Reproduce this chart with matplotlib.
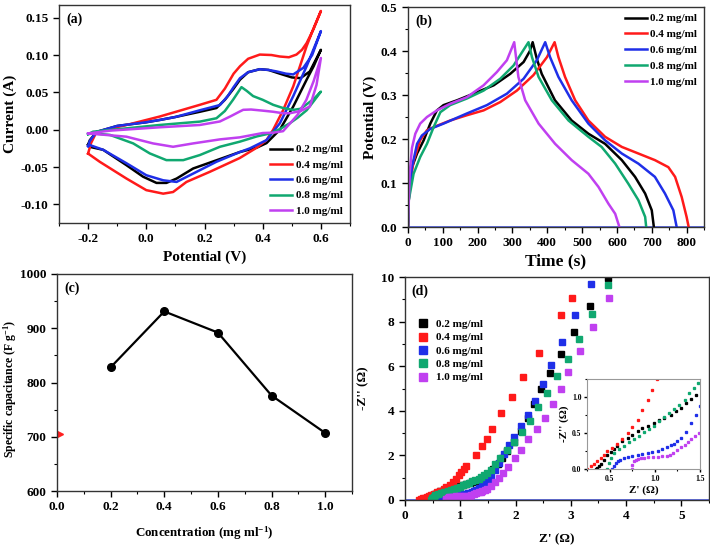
import matplotlib
matplotlib.use("Agg")
import matplotlib.pyplot as plt
from matplotlib.ticker import MultipleLocator, FormatStrFormatter

plt.rcParams['font.family'] = ['Liberation Serif', 'DejaVu Serif']
plt.rcParams['font.weight'] = 'bold'
plt.rcParams['axes.labelweight'] = 'bold'
plt.rcParams['mathtext.fontset'] = 'custom'
plt.rcParams['mathtext.rm'] = 'Liberation Serif:bold'
plt.rcParams['mathtext.bf'] = 'Liberation Serif:bold'
plt.rcParams['mathtext.it'] = 'Liberation Serif:bold'
plt.rcParams['mathtext.default'] = 'bf'
plt.rcParams['axes.unicode_minus'] = False

labels = ['0.2 mg/ml', '0.4 mg/ml', '0.6 mg/ml', '0.8 mg/ml', '1.0 mg/ml']
colors = ['#000000', '#ff1a1a', '#1f2fe8', '#10a870', '#c040f0']

# ---------------- (a) CV loops: upper branch then lower branch ----------------
cv_V_02 = [-0.2, -0.194, -0.171, -0.1, 0.0, 0.046, 0.1, 0.184, 0.241, 0.27, 0.3, 0.322, 0.35, 0.39, 0.42, 0.459, 0.5, 0.53, 0.562, 0.6,
           0.575, 0.551, 0.505, 0.459, 0.413, 0.38, 0.321, 0.241, 0.161, 0.104, 0.069, 0.035, -0.011, -0.068, -0.148, -0.194, -0.2]
cv_I_02 = [-0.020, -0.014, -0.003, 0.005, 0.010, 0.013, 0.017, 0.024, 0.029, 0.040, 0.055, 0.067, 0.077, 0.081, 0.080, 0.075, 0.070, 0.069, 0.078, 0.107,
           0.085, 0.067, 0.031, 0.0, -0.018, -0.024, -0.030, -0.041, -0.052, -0.0655, -0.0713, -0.0713, -0.063, -0.0476, -0.027, -0.023, -0.020]

cv_V_04 = [-0.2, -0.19, -0.171, -0.068, 0.046, 0.184, 0.241, 0.27, 0.3, 0.322, 0.35, 0.39, 0.43, 0.459, 0.49, 0.516, 0.535, 0.551, 0.575, 0.6,
           0.575, 0.551, 0.505, 0.47, 0.436, 0.413, 0.38, 0.321, 0.218, 0.138, 0.092, 0.058, 0.0, -0.068, -0.16, -0.2]
cv_I_04 = [-0.032, -0.018, -0.003, 0.0063, 0.0176, 0.0333, 0.040, 0.055, 0.075, 0.085, 0.095, 0.1006, 0.100, 0.098, 0.097, 0.1006, 0.107, 0.116, 0.135, 0.159,
           0.136, 0.112, 0.058, 0.026, 0.0, -0.014, -0.024, -0.038, -0.0565, -0.070, -0.0835, -0.0857, -0.081, -0.0655, -0.043, -0.032]

cv_V_06 = [-0.2, -0.194, -0.171, -0.1, 0.0, 0.046, 0.1, 0.184, 0.253, 0.28, 0.3, 0.322, 0.35, 0.39, 0.42, 0.448, 0.48, 0.505, 0.54, 0.57, 0.6,
           0.575, 0.551, 0.505, 0.459, 0.413, 0.356, 0.321, 0.241, 0.161, 0.104, 0.058, 0.0, -0.068, -0.148, -0.194, -0.2]
cv_I_06 = [-0.022, -0.015, -0.003, 0.005, 0.010, 0.013, 0.017, 0.026, 0.033, 0.045, 0.057, 0.069, 0.077, 0.081, 0.080, 0.078, 0.075, 0.074, 0.083, 0.100, 0.132,
           0.108, 0.085, 0.045, 0.0086, -0.014, -0.025, -0.030, -0.043, -0.0588, -0.070, -0.0678, -0.061, -0.045, -0.027, -0.0206, -0.022]

cv_V_08 = [-0.2, -0.183, -0.068, 0.046, 0.184, 0.241, 0.27, 0.298, 0.327, 0.345, 0.367, 0.4, 0.436, 0.47, 0.505, 0.53, 0.551, 0.575, 0.6,
           0.575, 0.551, 0.52, 0.493, 0.46, 0.425, 0.38, 0.321, 0.253, 0.184, 0.127, 0.069, 0.012, -0.045, -0.125, -0.183, -0.2]
cv_I_08 = [-0.006, -0.0027, 0.0018, 0.0063, 0.0108, 0.0153, 0.025, 0.040, 0.057, 0.052, 0.045, 0.040, 0.0333, 0.029, 0.0265, 0.028, 0.034, 0.041, 0.051,
           0.038, 0.026, 0.016, 0.0086, 0.001, -0.005, -0.009, -0.0161, -0.0229, -0.034, -0.0408, -0.0408, -0.0318, -0.0184, -0.007, -0.005, -0.006]

cv_V_10 = [-0.2, -0.125, 0.046, 0.184, 0.253, 0.29, 0.321, 0.333, 0.36, 0.4, 0.436, 0.47, 0.493, 0.53, 0.562, 0.585, 0.6,
           0.575, 0.55, 0.52, 0.493, 0.47, 0.436, 0.4, 0.321, 0.253, 0.161, 0.092, 0.023, -0.068, -0.2]
cv_I_10 = [-0.005, -0.0013, 0.0032, 0.0063, 0.011, 0.018, 0.0243, 0.0266, 0.027, 0.0255, 0.024, 0.022, 0.022, 0.025, 0.031, 0.060, 0.096,
           0.065, 0.040, 0.020, 0.008, -0.002, -0.004, -0.0045, -0.0103, -0.013, -0.0184, -0.0229, -0.0184, -0.0094, -0.005]

# ---------------- (b) GCD ----------------
gcd_t_02 = [0, 2, 11.5, 26, 45, 64, 83, 102, 141, 188, 246, 293.5, 332, 350, 358, 370, 384, 422, 470, 518, 566, 614, 652, 681, 700, 706]
gcd_V_02 = [0, 0.06, 0.136, 0.167, 0.197, 0.235, 0.265, 0.277, 0.288, 0.303, 0.322, 0.348, 0.375, 0.40, 0.42, 0.382, 0.348, 0.288, 0.242, 0.212, 0.189, 0.152, 0.114, 0.076, 0.038, 0.0]
gcd_t_04 = [0, 2, 16, 35, 54.5, 73.6, 121, 169, 217, 265, 312.6, 360, 399, 421, 432, 451, 480, 518, 566, 614, 661.6, 709, 747.6, 767, 786, 800, 806]
gcd_V_04 = [0, 0.076, 0.15, 0.197, 0.22, 0.227, 0.242, 0.254, 0.265, 0.284, 0.31, 0.345, 0.386, 0.42, 0.386, 0.341, 0.288, 0.242, 0.205, 0.182, 0.167, 0.152, 0.136, 0.114, 0.068, 0.023, 0.0]
gcd_t_06 = [0, 2, 11.5, 26, 40, 64, 102, 169, 226.6, 284, 332, 370, 394, 408, 432, 470, 518, 566, 614, 661.6, 709, 738, 762, 771.5]
gcd_V_06 = [0, 0.068, 0.136, 0.189, 0.208, 0.223, 0.235, 0.258, 0.277, 0.303, 0.337, 0.379, 0.42, 0.386, 0.341, 0.288, 0.235, 0.197, 0.167, 0.144, 0.114, 0.076, 0.038, 0.0]
gcd_t_08 = [0, 2, 16, 35, 54.5, 73.6, 93, 121, 169, 217, 265, 303, 346, 356, 375, 413, 461, 518, 556, 595, 633, 661.6, 681, 684]
gcd_V_08 = [0, 0.06, 0.121, 0.159, 0.189, 0.227, 0.261, 0.277, 0.292, 0.31, 0.337, 0.367, 0.42, 0.386, 0.341, 0.288, 0.242, 0.205, 0.182, 0.144, 0.098, 0.061, 0.023, 0.0]
gcd_t_10 = [0, 4.8, 11.5, 21, 35, 54.5, 83, 121, 169, 217, 255, 284, 305, 317, 336.5, 375, 422.5, 470, 518, 547, 575.5, 595, 607]
gcd_V_10 = [0, 0.121, 0.18, 0.212, 0.235, 0.25, 0.265, 0.28, 0.295, 0.322, 0.352, 0.379, 0.42, 0.341, 0.288, 0.235, 0.189, 0.152, 0.121, 0.091, 0.053, 0.03, 0.0]

# ---------------- (c) specific capacitance ----------------
conc = [0.2, 0.4, 0.6, 0.8, 1.0]
cap = [828, 931, 892, 776, 707]
cap_marker_x = [0.0]
cap_marker_y = [705]

# ---------------- (d) Nyquist ----------------
zr_02 = [0.345, 0.36, 0.38, 0.40, 0.437, 0.474, 0.51, 0.55, 0.585, 0.64, 0.70, 0.75, 0.81, 0.86, 0.92, 0.99, 1.05, 1.10, 1.18, 1.23, 1.29, 1.34, 1.40, 1.46,
         1.52, 1.60, 1.68, 1.76, 1.85, 1.97, 2.09, 2.22, 2.34, 2.46, 2.63, 2.83, 3.06, 3.35, 3.68]
zi_02 = [0.0, 0.02, 0.045, 0.07, 0.13, 0.19, 0.24, 0.28, 0.324, 0.384, 0.43, 0.477, 0.523, 0.57, 0.60, 0.64, 0.676, 0.71, 0.755, 0.80, 0.85, 0.91, 0.97, 1.03,
         1.10, 1.38, 1.62, 1.88, 2.18, 2.62, 3.1, 3.68, 4.30, 4.97, 5.69, 6.56, 7.53, 8.68, 9.95]
zr_04 = [0.25, 0.29, 0.33, 0.36, 0.40, 0.437, 0.474, 0.53, 0.585, 0.64, 0.70, 0.75, 0.81, 0.86, 0.92, 0.97, 1.02, 1.06, 1.11, 1.28, 1.39, 1.49, 1.58, 1.74, 1.93, 2.13, 2.42, 2.83, 3.02]
zi_04 = [0.0, 0.037, 0.07, 0.106, 0.153, 0.2, 0.245, 0.29, 0.35, 0.41, 0.5, 0.59, 0.685, 0.82, 0.96, 1.1, 1.25, 1.38, 1.53, 2.03, 2.42, 2.75, 3.2, 3.88, 4.6, 5.5, 6.6, 8.3, 9.07]
zr_06 = [0.53, 0.545, 0.567, 0.59, 0.62, 0.66, 0.70, 0.75, 0.81, 0.86, 0.92, 0.97, 1.03, 1.08, 1.14, 1.18, 1.21, 1.25, 1.29, 1.34, 1.40, 1.46, 1.50,
         1.55, 1.62, 1.70, 1.79, 1.88, 1.97, 2.09, 2.23, 2.36, 2.49, 2.65, 2.84, 3.07, 3.36]
zi_06 = [0.0, 0.04, 0.083, 0.11, 0.13, 0.15, 0.167, 0.185, 0.2, 0.21, 0.22, 0.235, 0.255, 0.28, 0.306, 0.33, 0.35, 0.39, 0.43, 0.52, 0.64, 0.75, 0.87,
         1.05, 1.35, 1.68, 2.05, 2.45, 2.84, 3.3, 3.82, 4.42, 5.18, 6.05, 7.08, 8.28, 9.70]
zr_08 = [0.474, 0.49, 0.52, 0.55, 0.60, 0.66, 0.71, 0.77, 0.83, 0.88, 0.94, 0.99, 1.05, 1.10, 1.16, 1.21, 1.27, 1.33, 1.38, 1.43, 1.48,
         1.55, 1.63, 1.72, 1.84, 1.97, 2.11, 2.26, 2.41, 2.57, 2.75, 2.94, 3.15, 3.39, 3.68]
zi_08 = [0.0, 0.083, 0.153, 0.22, 0.28, 0.324, 0.37, 0.417, 0.463, 0.51, 0.556, 0.60, 0.66, 0.72, 0.78, 0.83, 0.89, 0.96, 1.05, 1.12, 1.2,
         1.35, 1.6, 1.9, 2.25, 2.62, 3.05, 3.56, 4.16, 4.80, 5.54, 6.33, 7.24, 8.34, 9.65]
zr_10 = [0.744, 0.75, 0.77, 0.79, 0.81, 0.85, 0.88, 0.93, 0.98, 1.03, 1.08, 1.14, 1.17, 1.2, 1.25, 1.29, 1.33, 1.37, 1.4, 1.45, 1.49,
         1.55, 1.62, 1.70, 1.78, 1.87, 1.99, 2.09, 2.23, 2.38, 2.53, 2.68, 2.83, 2.95, 3.16, 3.40, 3.69]
zi_10 = [0.0, 0.05, 0.106, 0.13, 0.14, 0.15, 0.153, 0.16, 0.163, 0.167, 0.175, 0.185, 0.2, 0.22, 0.27, 0.3, 0.34, 0.38, 0.41, 0.46, 0.5,
         0.62, 0.80, 1.0, 1.22, 1.5, 1.87, 2.25, 2.72, 3.17, 3.67, 4.3, 4.97, 5.73, 6.66, 7.75, 9.06]

TICK_FS = 9.5
LEG_FS = 8

fig = plt.figure(figsize=(7.10, 5.45), dpi=100)

def W(l, r, t, b):
    return [l / 710, 1 - b / 545, (r - l) / 710, (b - t) / 545]

def style(ax):
    ax.tick_params(which='both', direction='out', top=False, right=False, labelsize=TICK_FS)
    ax.tick_params(which='major', length=4, width=1)
    ax.tick_params(which='minor', length=2.5, width=0.8)
    for s in ax.spines.values():
        s.set_linewidth(1.0)
        s.set_color('#333333')
    for lab in ax.get_xticklabels() + ax.get_yticklabels():
        lab.set_fontweight('bold')

# (a)
axa = fig.add_axes(W(59, 350, 5, 223))
for V, I, c, lab in zip([cv_V_02, cv_V_04, cv_V_06, cv_V_08, cv_V_10],
                        [cv_I_02, cv_I_04, cv_I_06, cv_I_08, cv_I_10], colors, labels):
    axa.plot(V, I, color=c, lw=1.8, label=lab, solid_joinstyle='round')
axa.set_xlim(-0.3, 0.7)
axa.set_ylim(-0.125, 0.167)
axa.xaxis.set_major_locator(MultipleLocator(0.2))
axa.xaxis.set_minor_locator(MultipleLocator(0.1))
axa.yaxis.set_major_locator(MultipleLocator(0.05))
axa.xaxis.set_major_formatter(FormatStrFormatter('%.1f'))
axa.yaxis.set_major_formatter(FormatStrFormatter('%.2f'))
axa.set_xlabel('Potential (V)', fontsize=11, labelpad=4)
axa.set_ylabel('Current (A)', fontsize=11, labelpad=3)
axa.text(0.025, 0.965, '(a)', transform=axa.transAxes, fontsize=10, fontweight='bold', va='top')
axa.legend(loc='lower right', bbox_to_anchor=(1.0, 0.0), frameon=False,
           handlelength=2.0, handletextpad=0.3, labelspacing=0.5, borderaxespad=0.25,
           prop={'weight': 'bold', 'size': LEG_FS})
style(axa)

# (b)
axb = fig.add_axes(W(408, 704, 7, 227))
axb.axhline(0, color='#4a5ae8', lw=1.2, zorder=1)
for t, V, c, lab in zip([gcd_t_02, gcd_t_04, gcd_t_06, gcd_t_08, gcd_t_10],
                        [gcd_V_02, gcd_V_04, gcd_V_06, gcd_V_08, gcd_V_10], colors, labels):
    axb.plot(t, V, color=c, lw=1.8, label=lab, zorder=2)
axb.set_xlim(0, 850)
axb.set_ylim(0, 0.5)
axb.xaxis.set_major_locator(MultipleLocator(100))
axb.xaxis.set_minor_locator(MultipleLocator(50))
axb.yaxis.set_major_locator(MultipleLocator(0.1))
axb.yaxis.set_minor_locator(MultipleLocator(0.05))
axb.yaxis.set_major_formatter(FormatStrFormatter('%.1f'))
axb.set_xlabel('Time (s)', fontsize=12.5, labelpad=3)
axb.set_ylabel('Potential (V)', fontsize=11, labelpad=3)
axb.text(0.025, 0.965, '(b)', transform=axb.transAxes, fontsize=10, fontweight='bold', va='top')
axb.legend(loc='upper right', bbox_to_anchor=(1.0, 1.0), frameon=False,
           handlelength=2.0, handletextpad=0.3, labelspacing=0.55, borderaxespad=0.2,
           prop={'weight': 'bold', 'size': LEG_FS})
style(axb)

# (c)
axc = fig.add_axes(W(57, 352, 274, 491))
axc.plot(conc, cap, color='black', lw=1.6, marker='o', ms=5.5)
axc.plot(cap_marker_x, cap_marker_y, linestyle='none', marker='>', color='#ff2020', ms=8)
axc.set_xlim(0, 1.1)
axc.set_ylim(600, 1000)
axc.xaxis.set_major_locator(MultipleLocator(0.2))
axc.xaxis.set_minor_locator(MultipleLocator(0.1))
axc.yaxis.set_major_locator(MultipleLocator(100))
axc.yaxis.set_minor_locator(MultipleLocator(50))
axc.xaxis.set_major_formatter(FormatStrFormatter('%.1f'))
axc.set_xlabel('Concentration (mg ml$^{-1}$)', fontsize=9.4, labelpad=8)
axc.set_ylabel('Specific capacitance (F g$^{-1}$)', fontsize=8.5)
axc.yaxis.set_label_coords(-0.128, 0.47)
axc.text(0.025, 0.965, '(c)', transform=axc.transAxes, fontsize=10, fontweight='bold', va='top')
style(axc)

# (d)
axd = fig.add_axes(W(405, 709, 277, 500))
axd.axhline(0, color='#4a5ae8', lw=1.2, zorder=1)
zr_all = [zr_02, zr_04, zr_06, zr_08, zr_10]
zi_all = [zi_02, zi_04, zi_06, zi_08, zi_10]
for zr, zi, c, lab in zip(zr_all, zi_all, colors, labels):
    axd.plot(zr, zi, linestyle='none', marker='s', ms=4.2, color=c, mec=c, label=lab, zorder=2)
axd.set_xlim(0, 5.5)
axd.set_ylim(0, 10)
axd.xaxis.set_major_locator(MultipleLocator(1))
axd.xaxis.set_minor_locator(MultipleLocator(0.5))
axd.yaxis.set_major_locator(MultipleLocator(2))
axd.yaxis.set_minor_locator(MultipleLocator(1))
axd.set_xlabel("Z' (Ω)", fontsize=9.5, labelpad=8)
axd.set_ylabel("-Z'' (Ω)", fontsize=9.5, labelpad=9)
axd.text(0.02, 0.965, '(d)', transform=axd.transAxes, fontsize=10, fontweight='bold', va='top')
axd.legend(loc='upper left', bbox_to_anchor=(0.02, 0.84), frameon=False, markerscale=1.5,
           handlelength=1.0, handletextpad=0.6, labelspacing=0.32, borderaxespad=0.2,
           prop={'weight': 'bold', 'size': LEG_FS})
style(axd)

# inset
axi = fig.add_axes(W(587, 700, 379, 469))
for zr, zi, c in zip(zr_all, zi_all, colors):
    axi.plot(zr, zi, linestyle='none', marker='s', ms=1.4, color=c, mec=c)
axi.set_xlim(0.25, 1.5)
axi.set_ylim(0, 1.25)
axi.xaxis.set_major_locator(MultipleLocator(0.5))
axi.xaxis.set_minor_locator(MultipleLocator(0.25))
axi.yaxis.set_major_locator(MultipleLocator(0.5))
axi.yaxis.set_minor_locator(MultipleLocator(0.25))
axi.xaxis.set_major_formatter(FormatStrFormatter('%.1f'))
axi.yaxis.set_major_formatter(FormatStrFormatter('%.1f'))
axi.set_xlabel("Z' (Ω)", fontsize=8, labelpad=2)
axi.set_ylabel("-Z'' (Ω)", fontsize=8, labelpad=2)
style(axi)
axi.tick_params(which='both', labelsize=5.5, pad=1.5)
axi.tick_params(which='major', length=2.5)
axi.tick_params(which='minor', length=1.5)
for lab in axi.get_xticklabels() + axi.get_yticklabels():
    lab.set_fontweight('bold')
for s in axi.spines.values():
    s.set_color('#999999')
    s.set_linewidth(0.8)

fig.savefig('out.png', dpi=100)
